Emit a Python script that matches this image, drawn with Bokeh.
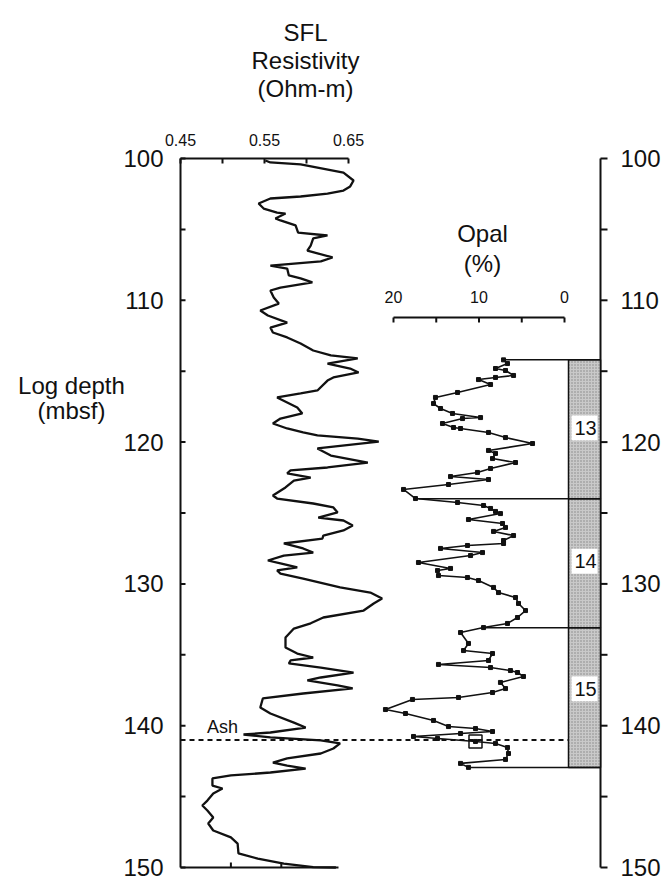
import numpy as np
from bokeh.plotting import figure
from bokeh.models import Range1d
from bokeh.core.properties import value
from bokeh.embed import file_html
from bokeh.resources import INLINE

# ---------------- data ----------------
sfl_depth = [100.14, 100.28, 100.42, 100.99, 101.55, 101.97, 102.26, 102.47, 102.68, 102.82,
             103.17, 103.53, 103.81, 103.88, 104.23, 104.37, 104.72, 105.22, 105.43, 105.64,
             106.14, 106.49, 106.98, 107.26, 107.55, 107.76, 108.25, 108.46, 108.74, 109.10,
             109.31, 109.80, 110.23, 110.72, 111.07, 111.57, 111.92, 112.27, 112.62, 113.05,
             113.54, 113.89, 114.10, 114.46, 114.81, 115.09, 115.44, 115.66, 116.36, 116.57,
             116.85, 117.56, 117.98, 118.34, 118.69, 119.04, 119.32, 119.53, 119.75, 119.96,
             120.45, 120.95, 121.44, 121.79, 122.00, 122.21, 122.50, 122.71, 123.20, 123.77,
             123.98, 124.33, 124.61, 124.96, 125.32, 125.53, 125.88, 126.23, 126.59, 126.80,
             127.15, 127.50, 127.79, 128.00, 128.35, 128.56, 128.84, 129.05, 129.27, 129.62,
             130.25, 130.61, 131.03, 131.38, 131.88, 132.37, 132.78, 133.15, 133.78, 134.48,
             134.91, 135.19, 135.40, 135.61, 135.90, 136.25, 136.60, 136.81, 137.16, 137.37,
             137.73, 138.08, 138.72, 139.14, 139.78, 140.13, 140.48, 140.62, 140.83, 141.04,
             141.25, 141.61, 141.96, 142.31, 142.60, 142.81, 143.02, 143.30, 143.51, 143.72,
             144.22, 144.43, 144.78, 145.28, 145.63, 145.98, 146.47, 146.90, 147.39, 147.88,
             148.31, 149.01, 149.37, 149.72, 149.97, 150.00]
sfl_res = [0.551, 0.557, 0.593, 0.644, 0.656, 0.652, 0.644, 0.625, 0.593, 0.557,
           0.543, 0.549, 0.565, 0.575, 0.563, 0.569, 0.587, 0.590, 0.625, 0.608,
           0.605, 0.601, 0.631, 0.617, 0.557, 0.577, 0.579, 0.593, 0.607, 0.569,
           0.557, 0.561, 0.567, 0.545, 0.554, 0.577, 0.557, 0.560, 0.577, 0.593,
           0.608, 0.629, 0.661, 0.625, 0.652, 0.662, 0.632, 0.625, 0.613, 0.593,
           0.565, 0.589, 0.595, 0.569, 0.560, 0.577, 0.596, 0.613, 0.661, 0.686,
           0.613, 0.629, 0.673, 0.625, 0.581, 0.577, 0.605, 0.585, 0.575, 0.560,
           0.565, 0.608, 0.632, 0.637, 0.614, 0.644, 0.655, 0.644, 0.620, 0.619,
           0.573, 0.596, 0.608, 0.573, 0.554, 0.569, 0.589, 0.565, 0.569, 0.596,
           0.640, 0.676, 0.690, 0.680, 0.668, 0.620, 0.605, 0.585, 0.575, 0.575,
           0.589, 0.608, 0.581, 0.579, 0.617, 0.656, 0.617, 0.601, 0.637, 0.655,
           0.596, 0.548, 0.545, 0.557, 0.585, 0.599, 0.557, 0.525, 0.557, 0.617,
           0.640, 0.632, 0.617, 0.577, 0.560, 0.577, 0.599, 0.557, 0.510, 0.488,
           0.488, 0.500, 0.489, 0.482, 0.476, 0.482, 0.489, 0.483, 0.489, 0.510,
           0.518, 0.519, 0.542, 0.573, 0.608, 0.635]

opal_depth = [114.20, 114.46, 114.81, 114.95, 115.30, 115.44, 115.59, 115.94, 116.50, 116.85,
              117.28, 117.63, 117.98, 118.27, 118.34, 118.69, 118.97, 119.04, 119.32, 119.68,
              120.10, 120.59, 120.80, 121.16, 121.44, 121.86, 122.14, 122.43, 122.64, 122.99,
              123.34, 123.98, 124.26, 124.47, 124.68, 124.89, 125.04, 125.46, 125.74, 126.02,
              126.30, 126.59, 126.94, 127.15, 127.29, 127.50, 127.79, 128.00, 128.49, 128.91,
              129.06, 129.41, 129.55, 129.76, 130.25, 130.61, 130.96, 131.38, 131.88, 132.37,
              132.79, 133.08, 133.43, 134.20, 134.70, 134.91, 135.40, 135.68, 135.90, 136.11,
              136.25, 136.53, 136.95, 137.38, 137.66, 138.01, 138.15, 138.86, 139.14, 139.63,
              140.06, 140.20, 140.41, 140.55, 140.76, 140.90, 141.11, 141.25, 141.54, 141.96,
              142.38, 142.66, 142.94]
opal_pct = [7.13, 6.67, 8.07, 6.90, 5.96, 8.07, 10.06, 8.65, 12.51, 15.09,
            15.32, 14.50, 13.10, 9.82, 11.93, 14.27, 12.98, 12.16, 8.89, 6.90,
            3.74, 8.89, 8.07, 8.42, 5.73, 8.65, 10.18, 13.33, 8.89, 13.57,
            18.83, 17.43, 12.51, 9.47, 8.65, 8.07, 7.49, 11.23, 7.25, 6.90,
            8.30, 5.96, 7.13, 7.13, 11.35, 14.50, 9.59, 10.99, 17.08, 13.33,
            14.85, 14.74, 11.35, 10.06, 8.30, 7.72, 5.73, 5.38, 4.56, 5.50,
            6.67, 9.47, 12.16, 11.23, 11.81, 8.42, 8.89, 14.74, 8.65, 6.32,
            5.50, 4.80, 7.49, 6.90, 8.42, 12.40, 17.78, 20.94, 18.60, 15.32,
            13.57, 10.41, 8.42, 12.16, 17.66, 14.85, 10.41, 8.07, 6.67, 6.55,
            6.90, 12.16, 11.23]

depth_ticks = [100, 110, 120, 130, 140, 150]
depth_minor = [105, 115, 125, 135, 145]
sfl_ticks = [0.45, 0.55, 0.65]
sfl_minor = [0.50, 0.60]
sfl_bottom_ticks = [0.51, 0.57]
opal_ticks = [20, 10, 0]
opal_minor = [15, 5]

zone_names = ["13", "14", "15"]
zone_top = [114.2, 124.0, 133.1]
zone_bottom = [124.0, 133.1, 142.95]
zone_label_depth = [119.0, 128.4, 137.4]

ash_depth = 141.0
ash_sample_depth = [141.11]
ash_sample_opal = [10.41]

# ---------------- layout (page pixels -> data units) ----------------
W, H = 664, 881
FONT = "Liberation Sans"
INK = "#111111"

def sx(px):      # page x -> SFL resistivity units
    return 0.45 + (px - 180) / 840.0

def ox(px):      # page x -> opal % units
    return (564 - px) / 8.55

def dy(py):      # page y -> depth units
    return 100 + (py - 158) / 14.18

SFL_DX = 1 / 840.0
DEPTH_DY = 1 / 14.18

p = figure(width=W, height=H,
           x_range=Range1d(sx(0), sx(W)), y_range=Range1d(dy(H), dy(0)),
           output_backend="svg", toolbar_location=None, title_location=None,
           x_axis_location=None, y_axis_location=None, min_border=0)
p.extra_x_ranges = {"opal": Range1d(ox(0), ox(W))}
p.outline_line_color = None
p.background_fill_color = "white"
p.border_fill_color = "white"
p.xgrid.visible = False
p.ygrid.visible = False

def txt(x, y, t, size, align="center", baseline="middle", rng="default"):
    p.text(x=x, y=y, text=t, x_range_name=rng, text_font=value(FONT),
           text_font_size=size, text_color=INK, text_align=align,
           text_baseline=baseline)

AX_W = 2
LEFT_X = sx(180)
RIGHT_X = sx(600)
all_depth_ticks = depth_ticks + depth_minor

# Left depth axis (ticks inward)
p.segment(x0=[LEFT_X], x1=[LEFT_X], y0=[min(depth_ticks)], y1=[max(depth_ticks)],
          line_width=AX_W, line_color=INK)
p.segment(x0=[LEFT_X] * len(all_depth_ticks), x1=[LEFT_X + 5 * SFL_DX] * len(all_depth_ticks),
          y0=all_depth_ticks, y1=all_depth_ticks, line_width=AX_W, line_color=INK)
txt([LEFT_X - 17 * SFL_DX] * len(depth_ticks), depth_ticks, [str(t) for t in depth_ticks],
    "24px", align="right")

# Right depth axis (ticks outward)
p.segment(x0=[RIGHT_X], x1=[RIGHT_X], y0=[min(depth_ticks)], y1=[max(depth_ticks)],
          line_width=AX_W, line_color=INK)
p.segment(x0=[RIGHT_X] * len(all_depth_ticks), x1=[RIGHT_X + 7 * SFL_DX] * len(all_depth_ticks),
          y0=all_depth_ticks, y1=all_depth_ticks, line_width=AX_W, line_color=INK)
txt([RIGHT_X + 20 * SFL_DX] * len(depth_ticks), depth_ticks, [str(t) for t in depth_ticks],
    "24px", align="left")

# Top SFL axis at depth 100
top_d = min(depth_ticks)
all_sfl = sfl_ticks + sfl_minor
p.segment(x0=[min(sfl_ticks)], x1=[max(sfl_ticks)], y0=[top_d], y1=[top_d],
          line_width=AX_W, line_color=INK)
p.segment(x0=all_sfl, x1=all_sfl, y0=[top_d] * len(all_sfl),
          y1=[top_d + 5 * DEPTH_DY] * len(all_sfl), line_width=AX_W, line_color=INK)
txt(sfl_ticks, [top_d - 19 * DEPTH_DY] * len(sfl_ticks), [f"{t:.2f}" for t in sfl_ticks], "16px")

# Bottom SFL frame line at depth 150
bot_d = max(depth_ticks)
p.segment(x0=[min(sfl_ticks)], x1=[sx(338)], y0=[bot_d], y1=[bot_d],
          line_width=AX_W, line_color=INK)
p.segment(x0=sfl_bottom_ticks, x1=sfl_bottom_ticks, y0=[bot_d] * 2,
          y1=[bot_d - 5 * DEPTH_DY] * 2, line_width=AX_W, line_color=INK)

# Titles
txt([sx(305)] * 3, [dy(32), dy(60), dy(88)], ["SFL", "Resistivity", "(Ohm-m)"], "24px",
    baseline="alphabetic")
txt([sx(71)] * 2, [dy(385), dy(410)], ["Log depth", "(mbsf)"], "24px", baseline="alphabetic")

# Zone box geometry
BOX_L = ox(568)
BOX_R = ox(600)

# Ash dashed line from the left axis to the zone box
p.segment(x0=[ox(180)], x1=[BOX_L], y0=[ash_depth], y1=[ash_depth], x_range_name="opal",
          line_dash="5 4", line_width=2, line_color=INK)

# SFL resistivity curve
p.line(sfl_res, sfl_depth, line_width=2.3, line_color=INK)

# Opal curve
p.line(opal_pct, opal_depth, x_range_name="opal", line_width=1.6, line_color=INK)
p.scatter(opal_pct, opal_depth, x_range_name="opal", marker="square", size=4,
          fill_color=INK, line_color=INK)
p.scatter(ash_sample_opal, ash_sample_depth, x_range_name="opal", marker="square",
          size=13, fill_color=None, line_color=INK, line_width=1.5)

# Opal axis (inside the plot)
OPAL_AX_D = dy(317)
all_opal = opal_ticks + opal_minor
p.segment(x0=[max(opal_ticks)], x1=[min(opal_ticks)], y0=[OPAL_AX_D], y1=[OPAL_AX_D],
          x_range_name="opal", line_width=AX_W, line_color=INK)
p.segment(x0=all_opal, x1=all_opal, y0=[OPAL_AX_D] * len(all_opal),
          y1=[OPAL_AX_D + 5 * DEPTH_DY] * len(all_opal),
          x_range_name="opal", line_width=AX_W, line_color=INK)
txt(opal_ticks, [dy(296)] * len(opal_ticks), [str(t) for t in opal_ticks], "16px", rng="opal")
txt([ox(482)] * 2, [dy(233), dy(263)], ["Opal", "(%)"], "24px", baseline="alphabetic", rng="opal")

# Zone box
p.quad(left=[BOX_L] * 3, right=[BOX_R] * 3, top=zone_top, bottom=zone_bottom,
       x_range_name="opal", fill_color="#c9c9c9", hatch_pattern="dot",
       hatch_color="#858585", hatch_scale=3, hatch_weight=1,
       line_color=INK, line_width=1.5)
boundaries = [zone_top[0]] + zone_bottom
p.segment(x0=list(np.interp(boundaries, opal_depth, opal_pct)),
          x1=[BOX_R] * len(boundaries), y0=boundaries, y1=boundaries,
          x_range_name="opal", line_width=1.5, line_color=INK)
p.rect(x=[ox(584)] * 3, y=zone_label_depth, width=26, height=25,
       width_units="screen", height_units="screen", x_range_name="opal",
       fill_color="white", line_color=None)
txt([ox(585)] * 3, zone_label_depth, zone_names, "20px", rng="opal")

# Ash label
txt([sx(222)], [dy(726)], ["Ash"], "18px", baseline="alphabetic")

open("out.html", "w").write(file_html(p, INLINE))
